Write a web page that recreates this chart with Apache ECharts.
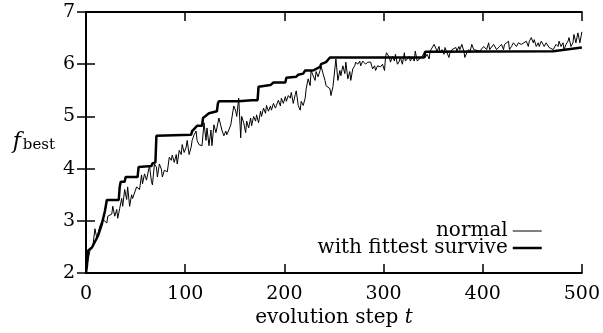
<!DOCTYPE html>
<html>
<head>
<meta charset="utf-8">
<script src="https://cdn.jsdelivr.net/npm/echarts@6/dist/echarts.min.js"></script>
<style>
  html, body { margin: 0; padding: 0; background: #fff; }
  #chart { width: 603px; height: 333px; }
</style>
</head>
<body>
<div id="chart"></div>
<script>
// [evolution step, best fitness]
const fittestRun = [
  [0, 2.0], [1, 2.15], [2, 2.43], [6, 2.49], [12, 2.71], [16, 2.94], [19, 3.18], [21, 3.4],
  [33, 3.4], [34, 3.65], [35, 3.75], [39, 3.75], [40, 3.84], [52, 3.84], [53, 4.03], [66, 4.05],
  [67, 4.1], [70, 4.12], [71, 4.63], [106, 4.65], [107, 4.72], [112, 4.82], [117, 4.82], [118, 4.97],
  [124, 5.06], [132, 5.1], [133, 5.25], [134, 5.29], [154, 5.29], [167, 5.31], [173, 5.31], [174, 5.57],
  [186, 5.6], [189, 5.65], [201, 5.65], [202, 5.74], [212, 5.76], [214, 5.8], [219, 5.82], [221, 5.88],
  [229, 5.88], [231, 5.91], [236, 5.95], [237, 6.0], [242, 6.04], [246, 6.13], [341, 6.13], [342, 6.24],
  [471, 6.25], [472, 6.28], [500, 6.32]
];

const normalRun = [
  [0, 2.05], [1, 2.15], [4, 2.43], [7, 2.53], [9, 2.85], [11, 2.66], [12, 2.75], [14, 2.9],
  [17, 3.03], [21, 2.96], [22, 3.09], [26, 3.13], [27, 3.28], [29, 3.09], [31, 3.22], [32, 3.05],
  [34, 3.24], [36, 3.43], [37, 3.28], [39, 3.6], [41, 3.41], [42, 3.65], [44, 3.28], [46, 3.5],
  [47, 3.43], [51, 3.65], [54, 3.6], [56, 3.88], [57, 3.71], [59, 3.9], [61, 3.78], [64, 4.06],
  [66, 3.75], [67, 3.69], [69, 4.09], [71, 4.03], [72, 3.84], [74, 4.09], [76, 3.99], [77, 3.84],
  [79, 3.97], [82, 3.94], [84, 4.22], [86, 4.16], [87, 4.26], [89, 4.12], [91, 4.27], [92, 4.09],
  [94, 4.35], [96, 4.27], [97, 4.46], [99, 4.31], [101, 4.41], [102, 4.54], [104, 4.27], [106, 4.41],
  [107, 4.54], [109, 4.65], [111, 4.72], [112, 4.54], [114, 4.46], [117, 4.44], [119, 4.88], [121, 4.54],
  [122, 4.78], [124, 4.44], [126, 4.74], [127, 4.44], [129, 4.84], [131, 4.69], [132, 4.78], [134, 4.97],
  [136, 4.82], [137, 4.74], [139, 4.63], [141, 4.72], [142, 4.65], [144, 4.74], [146, 4.84], [149, 5.2],
  [151, 5.1], [152, 5.0], [154, 5.35], [156, 4.59], [157, 5.0], [159, 4.88], [161, 4.69], [162, 4.91],
  [164, 4.78], [166, 4.97], [167, 4.82], [169, 5.0], [171, 4.91], [172, 5.03], [174, 4.88], [176, 5.1],
  [177, 5.0], [179, 5.16], [181, 5.06], [182, 5.21], [184, 5.1], [186, 5.2], [187, 5.12], [189, 5.25],
  [191, 5.16], [192, 5.21], [194, 5.31], [196, 5.2], [197, 5.35], [199, 5.25], [201, 5.38], [202, 5.29],
  [204, 5.4], [206, 5.35], [207, 5.46], [209, 5.25], [211, 5.42], [212, 5.49], [214, 5.21], [216, 5.12],
  [217, 5.29], [219, 5.21], [221, 5.35], [222, 5.53], [224, 5.72], [226, 5.59], [227, 5.88], [229, 5.78],
  [231, 5.69], [232, 5.86], [234, 5.76], [236, 5.88], [237, 5.97], [239, 5.82], [241, 5.69], [242, 5.59],
  [244, 5.57], [246, 5.53], [247, 5.4], [249, 5.57], [251, 5.59], [252, 6.1], [254, 5.69], [256, 5.88],
  [257, 5.78], [259, 5.97], [261, 5.82], [262, 6.04], [264, 5.72], [266, 5.86], [267, 5.69], [269, 5.91],
  [271, 5.97], [272, 6.04], [274, 6.0], [276, 6.06], [277, 5.97], [279, 6.06], [282, 6.0], [284, 6.04],
  [287, 6.04], [289, 5.91], [291, 5.97], [292, 5.88], [294, 5.97], [297, 5.95], [299, 6.0], [301, 5.88],
  [302, 6.13], [303, 6.22], [304, 6.22], [306, 6.13], [307, 6.04], [309, 6.15], [311, 6.06], [312, 6.19],
  [314, 6.0], [316, 6.06], [317, 6.13], [319, 6.0], [321, 6.22], [322, 6.06], [324, 6.1], [326, 6.15],
  [327, 6.06], [329, 6.13], [331, 6.06], [332, 6.25], [334, 6.06], [336, 6.1], [337, 6.08], [339, 6.15],
  [341, 6.22], [342, 6.13], [344, 6.19], [346, 6.1], [347, 6.25], [349, 6.22], [351, 6.38], [352, 6.38],
  [354, 6.25], [356, 6.34], [357, 6.22], [359, 6.28], [361, 6.19], [362, 6.32], [364, 6.22], [366, 6.13],
  [367, 6.22], [369, 6.28], [371, 6.25], [373, 6.32], [374, 6.25], [376, 6.34], [377, 6.28], [379, 6.38],
  [381, 6.25], [382, 6.13], [384, 6.22], [386, 6.28], [387, 6.22], [389, 6.38], [391, 6.28], [392, 6.3],
  [397, 6.25], [401, 6.34], [404, 6.28], [406, 6.41], [407, 6.28], [411, 6.38], [412, 6.41], [414, 6.28],
  [417, 6.34], [419, 6.38], [421, 6.28], [422, 6.38], [426, 6.44], [427, 6.28], [429, 6.34], [431, 6.41],
  [434, 6.34], [436, 6.41], [439, 6.38], [441, 6.41], [444, 6.44], [446, 6.34], [447, 6.44], [449, 6.51],
  [451, 6.41], [452, 6.47], [454, 6.34], [456, 6.41], [457, 6.34], [459, 6.44], [461, 6.38], [462, 6.34],
  [464, 6.41], [467, 6.32], [469, 6.34], [471, 6.28], [474, 6.38], [476, 6.34], [477, 6.44], [479, 6.34],
  [481, 6.41], [482, 6.28], [484, 6.38], [486, 6.44], [487, 6.51], [489, 6.34], [491, 6.41], [492, 6.57],
  [494, 6.41], [496, 6.6], [497, 6.6], [498, 6.41], [500, 6.62]
];

const seriesNames = ["normal", "with fittest survive"];
const lineWidths = [1, 2.5];

const serif = "DejaVu Serif";

const frameAxis = {
  axisLine: { show: true, lineStyle: { color: "#000", width: 2 } },
  axisTick: { show: true, inside: true, length: 9, lineStyle: { color: "#000", width: 1.5 } },
  splitLine: { show: false }
};

const chart = echarts.init(document.getElementById("chart"), null, { renderer: "canvas" });

chart.setOption({
  animation: false,
  backgroundColor: "#fff",
  textStyle: { fontFamily: serif, color: "#000" },
  grid: { left: 86, right: 18, top: 12, bottom: 55 },
  legend: {
    data: seriesNames.map((name, i) => ({
      name,
      lineStyle: { color: "#000", width: lineWidths[i] }
    })),
    orient: "vertical",
    align: "right",
    right: 55,
    top: 216,
    itemWidth: 29,
    itemHeight: 10,
    itemGap: -3,
    itemStyle: { opacity: 0 },
    textStyle: { fontFamily: serif, fontSize: 20, lineHeight: 17, color: "#000" }
  },
  xAxis: [
    {
      type: "value",
      min: 0, max: 500, interval: 100,
      position: "bottom",
      ...frameAxis,
      axisLabel: { fontFamily: serif, fontSize: 19, color: "#000", margin: 11 },
      name: "evolution step {t|t}",
      nameLocation: "middle",
      nameGap: 31,
      nameTextStyle: {
        fontFamily: serif, fontSize: 20, color: "#000",
        rich: { t: { fontFamily: serif, fontStyle: "italic", fontSize: 20, color: "#000" } }
      }
    },
    {
      type: "value",
      min: 0, max: 500, interval: 100,
      position: "top",
      ...frameAxis,
      axisLabel: { show: false }
    }
  ],
  yAxis: [
    {
      type: "value",
      min: 2, max: 7, interval: 1,
      position: "left",
      ...frameAxis,
      axisLabel: { fontFamily: serif, fontSize: 19, color: "#000", margin: 11 },
      name: "{f|f}{s|best}",
      nameLocation: "middle",
      nameRotate: 0,
      nameGap: 31,
      nameTextStyle: {
        rich: {
          f: { fontFamily: serif, fontStyle: "italic", fontSize: 22, color: "#000" },
          s: { fontFamily: serif, fontSize: 15, color: "#000", padding: [0, 0, -6, 2] }
        }
      }
    },
    {
      type: "value",
      min: 2, max: 7, interval: 1,
      position: "right",
      ...frameAxis,
      axisLabel: { show: false }
    }
  ],
  series: [
    {
      name: seriesNames[0],
      type: "line",
      data: normalRun,
      symbol: "none",
      lineStyle: { color: "#000", width: lineWidths[0] },
      itemStyle: { color: "#000" }
    },
    {
      name: seriesNames[1],
      type: "line",
      data: fittestRun,
      symbol: "none",
      lineStyle: { color: "#000", width: lineWidths[1] },
      itemStyle: { color: "#000" }
    }
  ]
});
</script>
</body>
</html>
